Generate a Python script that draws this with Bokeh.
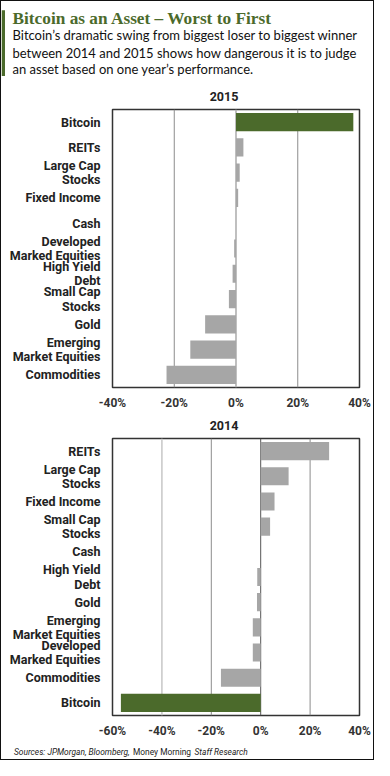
from bokeh.plotting import figure
from bokeh.models import (Range1d, FactorRange, Label, FixedTicker, PrintfTickFormatter,
                          ColumnDataSource, BoxAnnotation, Span)
from bokeh.layouts import column
from bokeh.embed import file_html
from bokeh.resources import INLINE

GREEN = "#4b6a2b"
GRAY = "#a6a6a6"
TXT = "#222222"

title_text = "Bitcoin as an Asset \u2013 Worst to First"
subtitle_lines = [
    "Bitcoin\u2019s dramatic swing from biggest loser to biggest winner",
    "between 2014 and 2015 shows how dangerous it is to judge",
    "an asset based on one year\u2019s performance.",
]
source_parts = ["Sources:  JPMorgan, Bloomberg,", "Money Morning", "Staff Research"]

year_top = "2015"
cats_2015 = ["Bitcoin", "REITs", "Large Cap\nStocks", "Fixed Income", "Cash",
             "Developed\nMarked Equities", "High Yield\nDebt", "Small Cap\nStocks",
             "Gold", "Emerging\nMarket Equities", "Commodities"]
vals_2015 = [38.0, 2.4, 1.2, 0.7, 0.0, -0.6, -1.1, -2.3, -10.0, -14.8, -22.5]
ticks_2015 = [-40, -20, 0, 20, 40]

year_bottom = "2014"
cats_2014 = ["REITs", "Large Cap\nStocks", "Fixed Income", "Small Cap\nStocks", "Cash",
             "High Yield\nDebt", "Gold", "Emerging\nMarket Equities",
             "Developed\nMarked Equities", "Commodities", "Bitcoin"]
vals_2014 = [27.7, 11.3, 5.6, 3.8, 0.0, -1.4, -1.5, -3.2, -3.2, -16.1, -56.6]
ticks_2014 = [-60, -40, -20, 0, 20, 40]

W = 372
FL, FR = 111, 14
LABEL_FONT = "Roboto"

# gridline styles (colour, width) per tick; None = no line (frame edge)
GRID_2015 = [None, ("#8c8c8c", 1), ("#b0b0b0", 1.6), ("#8c8c8c", 1), None]
GRID_2014 = [None, ("#cacaca", 1.6), ("#8c8c8c", 1), ("#555555", 1), ("#8c8c8c", 1), None]


def make_chart(cats, vals, ticks, grid_styles, height, top, bottom):
    colors = [GREEN if c == "Bitcoin" else GRAY for c in cats]
    src = ColumnDataSource(dict(cat=cats, val=vals, color=colors))
    p = figure(width=W, height=height, y_range=FactorRange(factors=cats[::-1]),
               x_range=Range1d(ticks[0], ticks[-1]), output_backend="svg",
               toolbar_location=None, title=None, min_border_left=FL, min_border_right=FR,
               min_border_top=top, min_border_bottom=bottom)
    for t, st in zip(ticks, grid_styles):
        if st is not None:
            p.add_layout(Span(location=t, dimension="height", line_color=st[0],
                              line_width=st[1], level="underlay"))
    p.hbar(y="cat", right="val", left=0, height=0.72, fill_color="color",
           line_color=None, source=src)

    p.xaxis.ticker = FixedTicker(ticks=ticks)
    p.xaxis.formatter = PrintfTickFormatter(format="%d%%")
    p.xaxis.major_tick_line_color = None
    p.xaxis.minor_tick_line_color = None
    p.xaxis.major_tick_out = 0
    p.xaxis.major_tick_in = 0
    p.xaxis.axis_line_color = None
    p.xaxis.major_label_standoff = 8
    p.xaxis.major_label_text_font = LABEL_FONT
    p.xaxis.major_label_text_font_size = "12px"
    p.xaxis.major_label_text_font_style = "bold"
    p.xaxis.major_label_text_color = "#333333"

    p.yaxis.major_tick_line_color = None
    p.yaxis.minor_tick_line_color = None
    p.yaxis.major_tick_out = 0
    p.yaxis.major_tick_in = 0
    p.yaxis.axis_line_color = None
    p.yaxis.major_label_standoff = 12
    p.yaxis.major_label_text_font = LABEL_FONT
    p.yaxis.major_label_text_font_size = "12.5px"
    p.yaxis.major_label_text_font_style = "bold"
    p.yaxis.major_label_text_color = TXT
    p.yaxis.major_label_text_line_height = 0.95

    p.grid.visible = False
    p.outline_line_color = "#333333"
    p.outline_line_width = 1.5
    p.background_fill_color = "white"
    p.border_fill_color = "white"
    return p


def make_strip(height):
    # frame fills the whole canvas; data units are canvas pixels (y grows downward)
    f = figure(width=W, height=height, x_range=Range1d(0, W),
               y_range=Range1d(height, 0), output_backend="svg", toolbar_location=None,
               title=None, min_border=0, min_border_left=0, min_border_right=0,
               min_border_top=0, min_border_bottom=0, x_axis_type=None, y_axis_type=None)
    f.grid.visible = False
    f.outline_line_color = None
    f.background_fill_color = "white"
    f.border_fill_color = "white"
    return f


def year_label(text, y):
    return Label(x=222.5, y=y, text=text, text_font=LABEL_FONT, text_font_style="bold",
                 text_font_size="12.5px", text_color=TXT, text_align="center",
                 text_baseline="middle")


# header: title, subtitle and the first year label
hdr = make_strip(105)
hdr.add_layout(BoxAnnotation(left=0, right=3.5, top=8.8, bottom=74.4,
                             fill_color=GREEN, fill_alpha=1, line_color=None))
hdr.add_layout(Label(x=11, y=16.7, text=title_text, text_font="Liberation Serif",
                     text_font_style="bold", text_font_size="17.3px", text_color=GREEN,
                     text_baseline="middle"))
for line, ym in zip(subtitle_lines, [33.7, 51.3, 67.0]):
    hdr.add_layout(Label(x=11, y=ym, text=line, text_font="Lato",
                         text_font_size="13px", text_color="#111111",
                         text_baseline="middle"))
hdr.add_layout(year_label(year_top, 95.3))

p1 = make_chart(cats_2015, vals_2015, ticks_2015, GRID_2015, 308, 3, 27)

mid = make_strip(21)
mid.add_layout(year_label(year_bottom, 11.4))

p2 = make_chart(cats_2014, vals_2014, ticks_2014, GRID_2014, 306, 3, 26)

ftr = make_strip(18)
for part, xs, style in zip(source_parts, [12.5, 131.5, 193.0], ["italic", "normal", "italic"]):
    ftr.add_layout(Label(x=xs, y=10.9, text=part, text_font="Roboto",
                         text_font_style=style, text_font_size="8.4px",
                         text_color="#222222", text_baseline="middle"))

layout = column(hdr, column(p1), mid, column(p2), ftr, spacing=0,
                styles={"border": "1px solid #111111", "background-color": "white"})

open("out.html", "w").write(file_html(layout, INLINE))
